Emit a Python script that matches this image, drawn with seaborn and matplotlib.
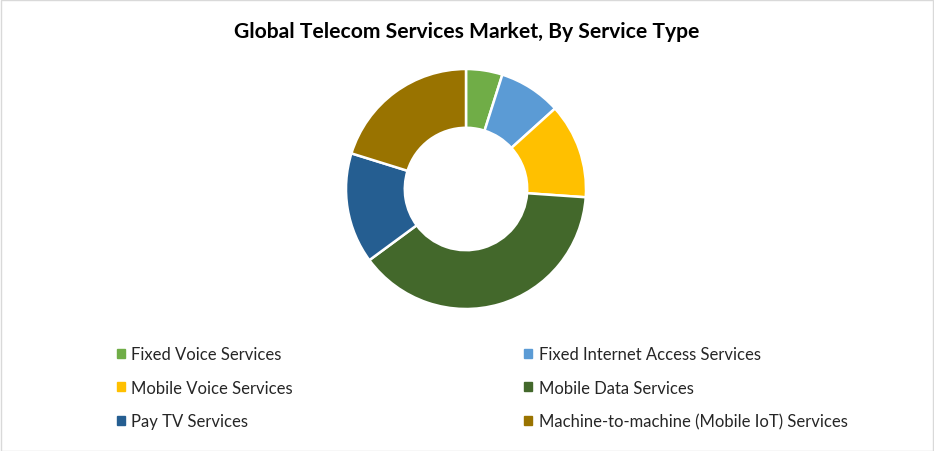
import matplotlib
matplotlib.use("Agg")
import matplotlib.pyplot as plt
import matplotlib.patches as mpatches
import seaborn as sns

# service types and market share (%)
services = ["Fixed Voice Services", "Fixed Internet Access Services",
            "Mobile Voice Services", "Mobile Data Services",
            "Pay TV Services", "Machine-to-machine (Mobile IoT) Services"]
share = [4.9, 8.4, 12.8, 38.8, 14.9, 20.2]
colors = ["#70ad47", "#5b9bd5", "#ffc000", "#43682b", "#255e91", "#997300"]

sns.set_theme(style="white")
plt.rcParams["font.family"] = ["Lato", "DejaVu Sans"]

fig = plt.figure(figsize=(9.34, 4.52), dpi=100)
pal = sns.color_palette(colors)

# donut
r = 120
ax = fig.add_axes([(466 - r) / 934, (452 - 190 - r) / 452, 2 * r / 934, 2 * r / 452])
wedges, _ = ax.pie(share, colors=pal, startangle=90, counterclock=False,
                   radius=1.0, wedgeprops=dict(width=0.49, edgecolor="white", linewidth=1.8))
ax.set_xlim(-1, 1)
ax.set_ylim(-1, 1)
ax.set_aspect("equal")
ax.axis("off")

fig.text(0.5, 1 - 32 / 452, "Global Telecom Services Market, By Service Type",
         ha="center", va="center", fontsize=15.2, fontweight="bold", color="#000000")

# legend, rows: (0,1), (2,3), (4,5)
order = [0, 2, 4, 1, 3, 5]
handles = [mpatches.Patch(color=pal[i]) for i in order]
labels = [services[i] for i in order]
leg = fig.legend(handles, labels, ncol=2, loc="upper left",
                 bbox_to_anchor=(102 / 934, 1 - 332 / 452), frameon=False,
                 fontsize=12, handlelength=0.45, handleheight=0.45, handletextpad=0.4,
                 columnspacing=13.9, labelspacing=1.05, labelcolor="#262626")

# thin grey border round the chart area
fig.patches.append(mpatches.Rectangle((0.5 / 934, 0.5 / 452), 1 - 1.5 / 934, 1 - 1.5 / 452,
                                      transform=fig.transFigure, fill=False,
                                      edgecolor="#d9d9d9", linewidth=1))

fig.savefig("out.png", dpi=100)
